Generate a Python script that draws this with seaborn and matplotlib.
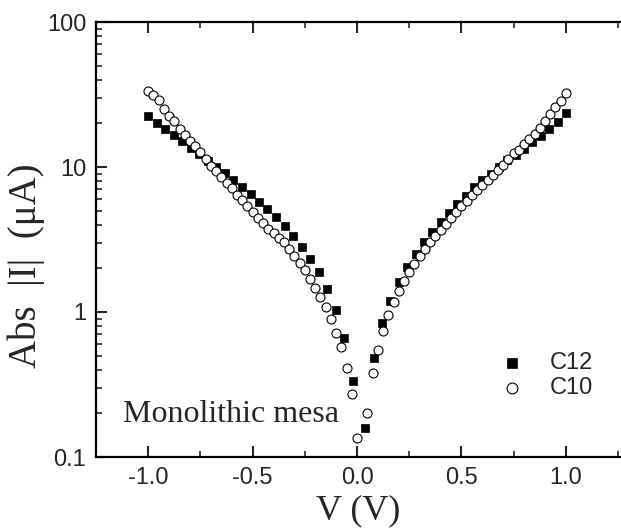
import numpy as np
import pandas as pd
import matplotlib
matplotlib.use("Agg")
import matplotlib.pyplot as plt
import matplotlib.ticker as mticker
import seaborn as sns

# ---- data (V in volts, current in microamps) ----
c12_v = [-1.000, -0.959, -0.918, -0.878, -0.837, -0.796, -0.755, -0.714, -0.673,
         -0.633, -0.592, -0.551, -0.510, -0.469, -0.429, -0.388, -0.347, -0.306,
         -0.265, -0.224, -0.184, -0.143, -0.102, -0.061, -0.020,
         0.04, 0.08, 0.12, 0.16, 0.20, 0.24, 0.28, 0.32, 0.36, 0.40, 0.44, 0.48,
         0.52, 0.56, 0.60, 0.64, 0.68, 0.72, 0.76, 0.80, 0.84, 0.88, 0.92, 0.96, 1.00]
c12_i = [22.5, 20.1, 18.4, 16.6, 15.0, 13.5, 12.2, 11.0, 10.0,
         9.05, 8.13, 7.28, 6.49, 5.74, 5.11, 4.52, 3.94, 3.36,
         2.81, 2.33, 1.88, 1.45, 1.03, 0.665, 0.334,
         0.159, 0.48, 0.835, 1.19, 1.60, 2.05, 2.51, 3.04, 3.58, 4.16, 4.79, 5.53,
         6.30, 7.30, 8.13, 9.0, 10.0, 11.2, 12.1, 13.4, 14.8, 16.4, 18.2, 20.5, 23.4]

c10_v = [-1.000, -0.975, -0.950, -0.925, -0.900, -0.875, -0.850, -0.825, -0.800,
         -0.775, -0.750, -0.725, -0.700, -0.675, -0.650, -0.625, -0.600, -0.575,
         -0.550, -0.525, -0.500, -0.475, -0.450, -0.425, -0.400, -0.375, -0.350,
         -0.325, -0.300, -0.275, -0.250, -0.225, -0.200, -0.175, -0.150, -0.125,
         -0.100, -0.075, -0.050, -0.025, 0.000,
         0.050, 0.075, 0.100, 0.125, 0.150, 0.175, 0.200, 0.225, 0.250, 0.275,
         0.300, 0.325, 0.350, 0.375, 0.400, 0.425, 0.450, 0.475, 0.500, 0.525,
         0.550, 0.575, 0.600, 0.625, 0.650, 0.675, 0.700, 0.725, 0.750, 0.775,
         0.800, 0.825, 0.850, 0.875, 0.900, 0.925, 0.950, 0.975, 1.000]
c10_i = [33.6, 31.2, 29.0, 25.1, 22.4, 20.8, 18.4, 16.6, 15.2,
         13.9, 12.6, 11.4, 10.2, 9.34, 8.53, 7.80, 7.13, 6.42,
         5.89, 5.38, 4.90, 4.47, 4.09, 3.75, 3.48, 3.25, 3.04,
         2.73, 2.44, 2.18, 1.95, 1.69, 1.47, 1.27, 1.08, 0.89,
         0.72, 0.57, 0.41, 0.27, 0.135,
         0.20, 0.38, 0.55, 0.74, 0.95, 1.17, 1.40, 1.64, 1.89, 2.15,
         2.43, 2.72, 3.02, 3.33, 3.68, 4.05, 4.43, 4.88, 5.36, 5.86,
         6.38, 6.93, 7.48, 8.13, 8.81, 9.55, 10.4, 11.4, 12.4, 13.1,
         14.4, 15.7, 17.0, 18.7, 20.7, 23.3, 26.1, 28.6, 32.2]

series_names = ["C12", "C10"]
x_ticks = [-1.0, -0.5, 0.0, 0.5, 1.0]
x_tick_labels = ["-1.0", "-0.5", "0.0", "0.5", "1.0"]
y_ticks = [0.1, 1, 10, 100]
y_tick_labels = ["0.1", "1", "10", "100"]
annotation = "Monolithic mesa"

df12 = pd.DataFrame({"V": c12_v, "I": c12_i})
df10 = pd.DataFrame({"V": c10_v, "I": c10_i})

sns.set_style("ticks")
plt.rcParams["font.family"] = ["Liberation Sans", "DejaVu Sans"]
plt.rcParams["xtick.direction"] = "in"
plt.rcParams["ytick.direction"] = "in"

fig = plt.figure(figsize=(6.21, 5.29), dpi=100)
ax = fig.add_axes([96 / 621, (529 - 457) / 529, (621 - 96) / 621, (457 - 22) / 529])

sns.scatterplot(data=df12, x="V", y="I", marker="s", s=34, color="black",
                edgecolor="black", linewidth=0.5, label=series_names[0], ax=ax, zorder=3)
sns.scatterplot(data=df10, x="V", y="I", marker="o", s=42, facecolor="white",
                edgecolor="black", linewidth=0.8, label=series_names[1], ax=ax, zorder=4)

ax.set_yscale("log")
ax.set_xlim(-1.25, 1.264)
ax.set_ylim(0.1, 100)

ax.set_xticks(x_ticks)
ax.set_xticklabels(x_tick_labels)
ax.xaxis.set_minor_locator(mticker.MultipleLocator(0.25))
ax.set_yticks(y_ticks)
ax.set_yticklabels(y_tick_labels)
ax.yaxis.set_minor_locator(mticker.LogLocator(base=10, subs=np.arange(2, 10)))
ax.yaxis.set_minor_formatter(mticker.NullFormatter())

ax.tick_params(axis="both", which="major", length=8, width=1.5, labelsize=17,
               top=True, right=False, direction="in", pad=7)
ax.tick_params(axis="both", which="minor", length=4, width=1.2,
               top=True, right=False, direction="in")

for side in ["left", "bottom", "top"]:
    ax.spines[side].set_linewidth(1.6)
    ax.spines[side].set_color("black")
ax.spines["right"].set_visible(False)

ax.set_xlabel("V (V)", family=["Liberation Serif"], fontsize=26, labelpad=4)
ax.set_ylabel("Abs  |I|  (μA)", family=["Liberation Serif"], fontsize=28)
ax.yaxis.set_label_coords(-0.098, 0.44)

ax.text(0.051, 0.097, annotation, transform=ax.transAxes, family=["Liberation Serif"],
        fontsize=23, ha="left", va="center")

leg = ax.legend(loc="upper left", bbox_to_anchor=(0.73, 0.262), frameon=False,
                fontsize=17, handletextpad=0.6, labelspacing=0.1, borderaxespad=0,
                markerscale=1.2)

fig.savefig("out.png", dpi=100)
